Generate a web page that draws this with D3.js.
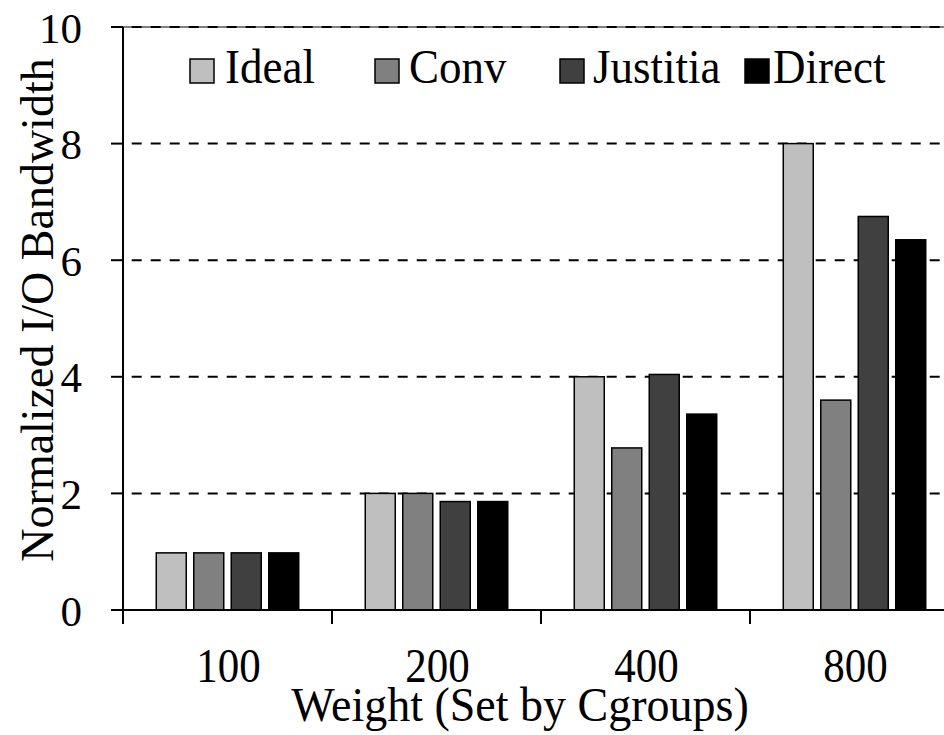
<!DOCTYPE html>
<html>
<head>
<meta charset="utf-8">
<script src="https://cdn.jsdelivr.net/npm/d3@7"></script>
<style>
  html, body { margin: 0; padding: 0; background: #fff; }
  svg { display: block; }
  text { font-family: "Liberation Serif", "Times New Roman", serif; fill: #000; }
</style>
</head>
<body>
<div id="chart"></div>
<script>
const categories = ["100", "200", "400", "800"];
const seriesNames = ["Ideal", "Conv", "Justitia", "Direct"];
const ideal = [0.98, 2.0, 4.0, 8.0];
const conv = [0.98, 2.0, 2.78, 3.6];
const justitia = [0.98, 1.86, 4.04, 6.75];
const direct = [0.98, 1.86, 3.36, 6.35];
const yTicks = [0, 2, 4, 6, 8, 10];
const colors = ["#bfbfbf", "#808080", "#404040", "#000000"];

const seriesValues = [ideal, conv, justitia, direct];

const width = 944;
const height = 735;

const svg = d3.select("#chart")
  .append("svg")
  .attr("width", width)
  .attr("height", height);

// band of each weight is ~209px wide, last one runs past the right edge
const x0 = d3.scaleBand()
  .domain(categories)
  .range([123, 959])
  .paddingInner(0)
  .paddingOuter(0);

const x1 = d3.scaleBand()
  .domain(seriesNames)
  .range([0, x0.bandwidth()])
  .paddingInner(0.2)
  .paddingOuter(0.887);

const y = d3.scaleLinear()
  .domain([0, 10])
  .range([610, 27]);

// gridlines + y ticks
const grid = svg.append("g");
grid.append("line")
  .attr("x1", 123).attr("x2", width)
  .attr("y1", y(10)).attr("y2", y(10))
  .attr("stroke", "#555").attr("stroke-width", 1.5);
grid.selectAll("line.grid")
  .data(yTicks.filter((d) => d > 0))
  .enter()
  .append("line")
  .attr("class", "grid")
  .attr("x1", 123).attr("x2", width)
  .attr("y1", (d) => y(d)).attr("y2", (d) => y(d))
  .attr("stroke", "#000")
  .attr("stroke-width", 2)
  .attr("stroke-dasharray", "10,9")
  .attr("stroke-dashoffset", 10.3);
grid.selectAll("line.ytick")
  .data(yTicks)
  .enter()
  .append("line")
  .attr("class", "ytick")
  .attr("x1", 111).attr("x2", 123)
  .attr("y1", (d) => y(d)).attr("y2", (d) => y(d))
  .attr("stroke", "#000")
  .attr("stroke-width", 2);

svg.append("g")
  .selectAll("text")
  .data(yTicks)
  .enter()
  .append("text")
  .attr("x", 82)
  .attr("y", (d) => y(d) + 15.5)
  .attr("text-anchor", "end")
  .style("font-size", "43px")
  .text((d) => d);

// bars
const table = categories.map((c, i) => ({
  cat: c,
  values: seriesNames.map((s, j) => ({ name: s, value: seriesValues[j][i], color: colors[j] }))
}));

svg.append("g")
  .selectAll("g")
  .data(table)
  .enter()
  .append("g")
  .attr("transform", (d) => `translate(${x0(d.cat)},0)`)
  .selectAll("rect")
  .data((d) => d.values)
  .enter()
  .append("rect")
  .attr("x", (d) => x1(d.name))
  .attr("y", (d) => y(d.value))
  .attr("width", x1.bandwidth())
  .attr("height", (d) => y(0) - y(d.value))
  .attr("fill", (d) => d.color)
  .attr("stroke", "#000")
  .attr("stroke-width", 1.5);

// axes
const axes = svg.append("g").attr("stroke", "#000").attr("stroke-width", 2);
axes.append("line")
  .attr("x1", 123).attr("x2", 123)
  .attr("y1", y(10)).attr("y2", 624);
axes.append("line")
  .attr("x1", 111).attr("x2", width)
  .attr("y1", y(0)).attr("y2", y(0));
axes.selectAll("line.xtick")
  .data(categories)
  .enter()
  .append("line")
  .attr("class", "xtick")
  .attr("x1", (d) => x0(d)).attr("x2", (d) => x0(d))
  .attr("y1", y(0)).attr("y2", 624);

svg.append("g")
  .selectAll("text")
  .data(categories)
  .enter()
  .append("text")
  .attr("transform", (d) => `translate(${x0(d) + x0.bandwidth() / 2 + 1},682) scale(1,1.12)`)
  .attr("text-anchor", "middle")
  .style("font-size", "43px")
  .text((d) => d);

// axis titles
svg.append("text")
  .attr("transform", "translate(520,721) scale(1,1.05)")
  .attr("text-anchor", "middle")
  .style("font-size", "46px")
  .text("Weight (Set by Cgroups)");

svg.append("text")
  .attr("transform", "translate(53,310) rotate(-90)")
  .attr("text-anchor", "middle")
  .style("font-size", "46px")
  .text("Normalized I/O Bandwidth");

// legend
const legend = svg.append("g")
  .selectAll("g")
  .data(seriesNames)
  .enter()
  .append("g")
  .attr("transform", (d, i) => `translate(${190 + i * 185},0)`);

legend.append("rect")
  .attr("x", 0).attr("y", 59)
  .attr("width", 24).attr("height", 24)
  .attr("fill", (d, i) => colors[i])
  .attr("stroke", "#000")
  .attr("stroke-width", 1.5);

legend.append("text")
  .attr("transform", (d, i) => `translate(${i === 3 ? 28 : 35 - i},83) scale(1,1.06)`)
  .style("font-size", "45px")
  .text((d) => d);
</script>
</body>
</html>
